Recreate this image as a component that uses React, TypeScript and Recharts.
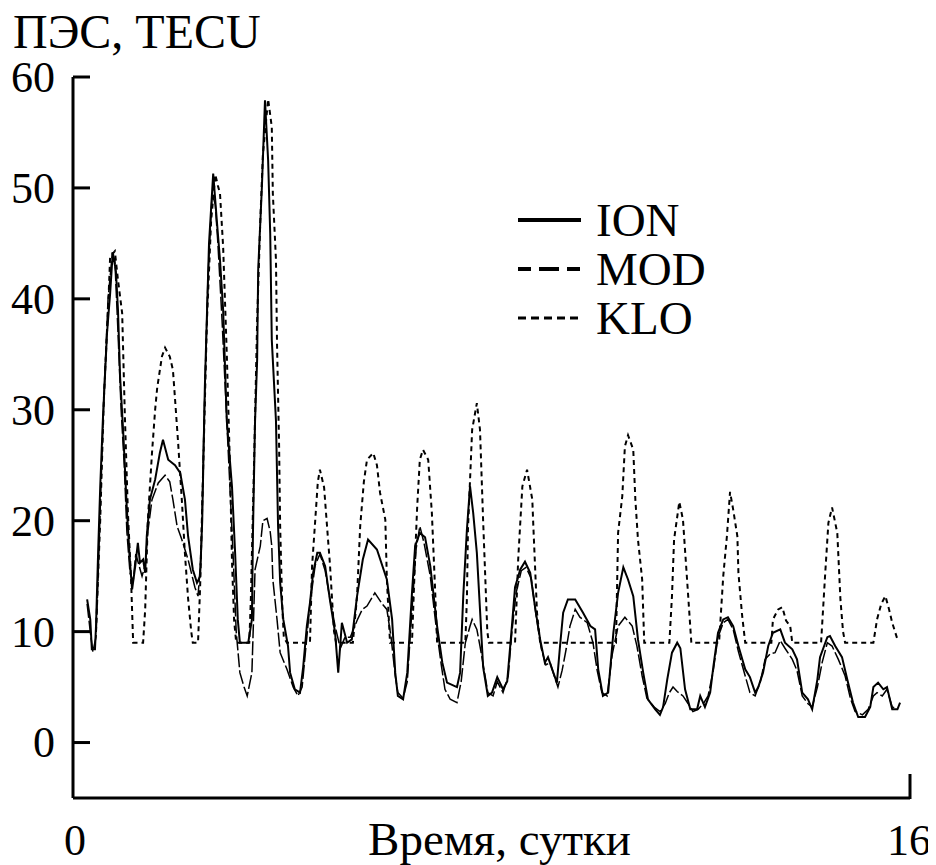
import React from "react";
import { LineChart, Line, XAxis, YAxis, Legend, Label } from "recharts";

// [days, TECU]
const ion: [number, number][] = [
  [0.27, 12.9], [0.33, 11.1], [0.36, 8.4], [0.42, 8.4], [0.44, 10.5], [0.48, 17.1], [0.52, 23], [0.57, 29],
  [0.65, 36.9], [0.71, 40.5], [0.76, 44.2], [0.82, 42.5], [0.86, 39], [0.9, 33], [0.96, 28], [1.03, 21],
  [1.09, 16.2], [1.13, 13.8], [1.19, 15.9], [1.24, 18], [1.28, 16.2], [1.34, 16.5], [1.38, 15.3], [1.41, 18.6],
  [1.47, 21.9], [1.57, 23.7], [1.66, 26.1], [1.72, 27.3], [1.82, 25.5], [1.95, 25], [2.05, 24.3], [2.14, 21.9],
  [2.2, 18.6], [2.29, 15.6], [2.37, 14.4], [2.43, 15], [2.47, 20], [2.52, 32], [2.6, 45], [2.68, 51.3],
  [2.75, 47], [2.81, 43.5], [2.87, 39], [2.94, 29], [3.04, 23], [3.1, 17], [3.15, 11.1], [3.19, 9],
  [3.29, 9], [3.35, 9], [3.42, 11.1], [3.44, 18.9], [3.48, 29], [3.52, 34.5], [3.54, 42.6], [3.61, 50],
  [3.67, 57.9], [3.73, 52.5], [3.77, 45.9], [3.8, 36.3], [3.88, 29], [3.92, 19.5], [3.96, 14.4], [4.02, 11.1],
  [4.11, 8.7], [4.15, 6.3], [4.24, 4.8], [4.34, 4.5], [4.4, 6.8], [4.47, 10.5], [4.53, 12.6], [4.59, 15.3],
  [4.67, 17.1], [4.72, 17.1], [4.82, 15.9], [4.91, 12.9], [5.01, 9.9], [5.07, 6.3], [5.14, 10.8], [5.24, 9],
  [5.33, 9.3], [5.43, 13.2], [5.54, 16.5], [5.64, 18.3], [5.81, 17.4], [6.0, 14.7], [6.1, 11.1], [6.16, 6.3],
  [6.21, 4.2], [6.31, 3.9], [6.39, 6.3], [6.48, 13.5], [6.54, 17.7], [6.63, 18.9], [6.73, 18.5], [6.83, 15.9],
  [6.96, 10.5], [7.06, 7.2], [7.15, 5.4], [7.34, 5], [7.4, 6.3], [7.46, 13.2], [7.53, 19.2], [7.59, 23.1],
  [7.65, 20.7], [7.72, 17.1], [7.78, 12], [7.84, 6.8], [7.93, 4.2], [8.01, 4.5], [8.11, 5.9], [8.22, 4.8],
  [8.3, 5.5], [8.39, 10.5], [8.45, 14], [8.55, 15.6], [8.64, 16.3], [8.74, 15.3], [8.83, 12.3], [8.93, 9.3],
  [9.02, 7.2], [9.08, 7.7], [9.16, 6.6], [9.25, 5.4], [9.31, 8.7], [9.37, 11.7], [9.46, 12.9], [9.6, 12.9],
  [9.75, 11.7], [9.89, 10.5], [9.98, 10.2], [10.04, 6.6], [10.13, 4.2], [10.23, 4.5], [10.33, 9.9], [10.42, 13.5],
  [10.52, 15.8], [10.61, 14.7], [10.71, 13.2], [10.8, 9.3], [10.9, 6.3], [10.99, 3.9], [11.13, 3], [11.22, 2.5],
  [11.28, 3.2], [11.36, 5.7], [11.45, 8.1], [11.55, 9], [11.61, 8.5], [11.7, 4.8], [11.8, 3], [11.93, 3],
  [11.99, 4.2], [12.08, 3.2], [12.18, 4.5], [12.24, 6.8], [12.33, 9.9], [12.43, 11.1], [12.52, 11.3], [12.62, 10.5],
  [12.72, 8.7], [12.85, 6.6], [12.94, 5.9], [13.04, 4.5], [13.1, 5], [13.19, 6.3], [13.29, 8.7], [13.38, 9.9],
  [13.52, 10.2], [13.61, 9], [13.75, 8.4], [13.84, 7.5], [13.94, 4.5], [14.05, 3.9], [14.13, 3], [14.23, 5.7],
  [14.28, 7.7], [14.42, 9.5], [14.47, 9.6], [14.57, 8.7], [14.7, 7.7], [14.8, 5.7], [14.91, 3.6], [15.01, 2.3],
  [15.14, 2.3], [15.24, 3.2], [15.3, 5], [15.39, 5.4], [15.49, 4.8], [15.56, 5], [15.66, 3], [15.76, 3],
  [15.81, 3.6],
];

const mod: [number, number][] = [
  [0.27, 12.5], [0.33, 10], [0.38, 8.2], [0.44, 9.5], [0.48, 15], [0.52, 21], [0.59, 31], [0.67, 40],
  [0.75, 44], [0.8, 43.5], [0.86, 37], [0.92, 30], [0.98, 25], [1.03, 19], [1.09, 15.3], [1.15, 14.5],
  [1.2, 17], [1.26, 16], [1.32, 15], [1.38, 16], [1.43, 19], [1.51, 21.9], [1.63, 23.4], [1.76, 24.1],
  [1.85, 23.5], [1.91, 21.9], [1.99, 19.5], [2.08, 18.3], [2.2, 16.5], [2.33, 14], [2.39, 13.2], [2.45, 17],
  [2.5, 28], [2.58, 42], [2.66, 49.5], [2.72, 48.5], [2.77, 45], [2.85, 38], [2.93, 30], [3.0, 23],
  [3.06, 17], [3.12, 10], [3.19, 6.3], [3.27, 5], [3.33, 4.2], [3.42, 6.3], [3.48, 15.6], [3.58, 17.7],
  [3.63, 20], [3.71, 20.2], [3.77, 19], [3.8, 17.7], [3.82, 14.7], [3.9, 11.1], [3.96, 8.1], [4.09, 6.6],
  [4.21, 5], [4.3, 4.2], [4.38, 5], [4.46, 9], [4.53, 12.5], [4.63, 16], [4.72, 17], [4.82, 15.5],
  [4.91, 13], [5.01, 10.5], [5.11, 8.5], [5.2, 9.5], [5.3, 9.5], [5.43, 11], [5.53, 12], [5.62, 12.3],
  [5.77, 13.5], [5.91, 12.5], [6.0, 12], [6.08, 9.5], [6.16, 6], [6.21, 4.5], [6.31, 4], [6.39, 5.5],
  [6.48, 12], [6.56, 17.5], [6.63, 19.5], [6.71, 18], [6.83, 15], [6.94, 10.5], [7.04, 7], [7.11, 4.8],
  [7.21, 3.9], [7.34, 3.6], [7.42, 5.5], [7.5, 9], [7.59, 10.5], [7.63, 11.1], [7.72, 10.2], [7.78, 8.7],
  [7.86, 6.5], [7.93, 4.5], [8.03, 4.2], [8.11, 5.5], [8.22, 4.5], [8.32, 6], [8.39, 10], [8.47, 13.5],
  [8.57, 15.5], [8.66, 15.8], [8.76, 14.8], [8.85, 11.5], [8.95, 8.5], [9.04, 7], [9.12, 7.2], [9.2, 6],
  [9.27, 5], [9.35, 6.5], [9.43, 8.5], [9.5, 10.5], [9.6, 12], [9.69, 11.3], [9.83, 10.8], [9.94, 9],
  [10.02, 6.5], [10.11, 4.5], [10.21, 4.2], [10.31, 8], [10.42, 10.5], [10.55, 11.3], [10.69, 10.5], [10.78, 8.7],
  [10.88, 6], [10.97, 4], [11.11, 3.2], [11.22, 2.8], [11.32, 3.5], [11.4, 4.5], [11.47, 5], [11.55, 4.6],
  [11.66, 4.2], [11.76, 3.5], [11.85, 2.8], [11.95, 3], [12.05, 3.5], [12.14, 4.2], [12.24, 6.5], [12.33, 9.5],
  [12.43, 10.8], [12.52, 11.1], [12.62, 10.2], [12.72, 8.2], [12.85, 6], [12.94, 4.5], [13.04, 4.2], [13.14, 5.5],
  [13.23, 7.5], [13.33, 8], [13.42, 8.1], [13.52, 9.2], [13.61, 8.5], [13.75, 7.5], [13.84, 6.5], [13.94, 4.2],
  [14.05, 3.5], [14.13, 3.2], [14.23, 5], [14.32, 7.2], [14.42, 9], [14.51, 8.7], [14.63, 7.5], [14.76, 6],
  [14.86, 4], [14.95, 2.8], [15.09, 2.5], [15.2, 3], [15.3, 4.2], [15.37, 4.5], [15.47, 4.2], [15.56, 4.8],
  [15.66, 3.2], [15.77, 3],
];

const klo: [number, number][] = [
  [0.44, 10], [0.52, 20], [0.59, 31], [0.67, 39], [0.71, 43.8], [0.8, 44.3], [0.86, 41.7], [0.94, 38.7],
  [0.99, 29.7], [1.05, 20.7], [1.11, 14.7], [1.15, 9], [1.34, 9], [1.38, 12], [1.43, 20], [1.51, 26.1],
  [1.57, 30], [1.61, 32], [1.7, 34.8], [1.76, 35.6], [1.85, 34.8], [1.91, 33.6], [1.95, 31], [2.01, 27],
  [2.08, 21.9], [2.14, 17], [2.2, 13], [2.26, 10], [2.29, 9], [2.39, 9], [2.43, 14], [2.49, 25],
  [2.56, 38], [2.64, 47], [2.72, 51.2], [2.77, 50.2], [2.81, 49.5], [2.87, 44.7], [2.94, 35], [3.0, 25],
  [3.04, 16.2], [3.08, 11], [3.12, 9], [3.37, 9], [3.4, 13], [3.46, 25], [3.52, 38], [3.58, 47],
  [3.63, 53], [3.73, 58], [3.8, 55.5], [3.82, 49.5], [3.88, 43.5], [3.9, 36], [3.94, 26.7], [3.96, 19.5],
  [4.0, 12.3], [4.03, 9.5], [4.09, 9], [4.53, 9], [4.57, 15.9], [4.63, 20], [4.68, 23.5], [4.72, 24.6],
  [4.8, 23], [4.88, 18], [4.91, 16.2], [4.99, 10], [5.03, 9], [5.35, 9], [5.43, 13.2], [5.49, 19.5],
  [5.56, 23.5], [5.62, 25.5], [5.74, 26.1], [5.81, 25], [5.87, 22.5], [5.97, 20.1], [6.0, 14.7], [6.06, 9],
  [6.48, 9], [6.54, 16.8], [6.58, 21.3], [6.63, 25.5], [6.69, 26.4], [6.79, 25.5], [6.86, 20.7], [6.92, 14],
  [6.96, 9], [7.5, 9], [7.53, 13], [7.55, 19.2], [7.59, 23.7], [7.63, 28.2], [7.72, 30.6], [7.78, 28.2],
  [7.84, 20], [7.92, 10], [7.95, 9], [8.45, 9], [8.51, 16.5], [8.59, 23.1], [8.68, 24.6], [8.78, 21.9],
  [8.8, 19.5], [8.87, 11.7], [8.93, 9], [10.38, 9], [10.42, 18.9], [10.5, 22.2], [10.55, 26.7], [10.61, 27.7],
  [10.71, 26.4], [10.75, 21.9], [10.8, 18.3], [10.88, 14.7], [10.92, 9], [11.4, 9], [11.45, 13.2], [11.49, 18.3],
  [11.59, 21.7], [11.66, 20.1], [11.76, 13.2], [11.82, 9], [12.35, 9], [12.43, 15], [12.5, 18.6], [12.56, 22.6],
  [12.62, 21], [12.7, 18.6], [12.72, 15.3], [12.79, 11.5], [12.85, 9], [13.35, 9], [13.38, 11.1], [13.48, 12],
  [13.56, 12.2], [13.63, 11], [13.71, 10.5], [13.75, 9], [14.3, 9], [14.38, 15.3], [14.44, 19.8], [14.51, 21.2],
  [14.61, 18.9], [14.67, 12.9], [14.72, 10], [14.76, 9], [15.3, 9], [15.37, 11.1], [15.45, 12.5], [15.53, 13.2],
  [15.6, 12], [15.66, 10.8], [15.76, 9.3],
];

const seriesNames = ["ION", "MOD", "KLO"];
const yTicks = [0, 10, 20, 30, 40, 50, 60];
const xTicks = [0, 16];

const font = "Liberation Serif, Tinos, Times New Roman, DejaVu Serif, serif";
const txt = { fontFamily: font, fill: "#000" };

const toRows = (pts: [number, number][]) => pts.map(([t, v]) => ({ t, v }));

const YTick = (props: any) => {
  const { x, y, payload } = props;
  return (
    <g>
      <line x1={x} x2={x + 17} y1={y} y2={y} stroke="#000" strokeWidth={3} />
      <text x={x - 18} y={y} dy="0.34em" textAnchor="end" fontSize={44} style={txt}>
        {payload.value}
      </text>
    </g>
  );
};

const XTick = (props: any) => {
  const { x, y, payload } = props;
  const last = payload.value === 16;
  return (
    <g>
      {last && <line x1={x} x2={x} y1={y + 1} y2={y - 24} stroke="#000" strokeWidth={3} />}
      <text
        x={last ? x + 21 : x + 2}
        y={y + 57}
        textAnchor={last ? "end" : "middle"}
        fontSize={44}
        style={txt}
      >
        {payload.value}
      </text>
    </g>
  );
};

const legendStyle: Record<string, { dash?: string; w: number }> = {
  ION: { w: 4 },
  MOD: { dash: "13 8 20 8 13", w: 4 },
  KLO: { dash: "8 5", w: 3 },
};

const LegendBox = () => (
  <svg width={230} height={170}>
    {seriesNames.map((name, i) => {
      const s = legendStyle[name];
      const cy = 34 + i * 49;
      return (
        <g key={name}>
          <line x1={10} x2={73} y1={cy} y2={cy} stroke="#000" strokeWidth={s.w} strokeDasharray={s.dash} />
          <text x={88} y={cy} dy="0.35em" fontSize={47} style={txt}>
            {name}
          </text>
        </g>
      );
    })}
  </svg>
);

export default function App() {
  return (
    <div style={{ width: 936, height: 865, margin: "-8px 0 0 -8px", fontFamily: font }}>
      <LineChart width={936} height={865} margin={{ top: 77, right: 26, bottom: 0, left: 0 }}>
        <XAxis
          type="number"
          dataKey="t"
          domain={[0, 16]}
          ticks={xTicks}
          allowDataOverflow
          tickLine={false}
          tickSize={0}
          tickMargin={0}
          height={67}
          axisLine={{ stroke: "#000", strokeWidth: 3 }}
          tick={<XTick />}
        >
          <Label
            content={(p: any) => (
              <text
                x={p.viewBox.x + p.viewBox.width / 2 + 8}
                y={p.viewBox.y + 57}
                textAnchor="middle"
                fontSize={47}
                style={txt}
              >
                Время, сутки
              </text>
            )}
          />
        </XAxis>
        <YAxis
          type="number"
          domain={[-5, 60]}
          ticks={yTicks}
          allowDataOverflow
          width={73}
          tickLine={false}
          tickSize={0}
          tickMargin={0}
          axisLine={{ stroke: "#000", strokeWidth: 3 }}
          tick={<YTick />}
        >
          <Label
            content={() => (
              <text x={13} y={48} fontSize={48} style={txt}>
                ПЭС, TECU
              </text>
            )}
          />
        </YAxis>
        <Legend
          align="center"
          verticalAlign="middle"
          layout="horizontal"
          wrapperStyle={{ position: "absolute", left: 508, top: 186, width: 230, height: 170 }}
          content={<LegendBox />}
        />
        <Line
          data={toRows(ion)}
          dataKey="v"
          name="ION"
          type="linear"
          stroke="#000"
          strokeWidth={2}
          dot={false}
          isAnimationActive={false}
        />
        <Line
          data={toRows(mod)}
          dataKey="v"
          name="MOD"
          type="linear"
          stroke="#000"
          strokeWidth={1.5}
          strokeDasharray="14 3"
          dot={false}
          isAnimationActive={false}
        />
        <Line
          data={toRows(klo)}
          dataKey="v"
          name="KLO"
          type="linear"
          stroke="#000"
          strokeWidth={2}
          strokeDasharray="5 4"
          dot={false}
          isAnimationActive={false}
        />
      </LineChart>
    </div>
  );
}
